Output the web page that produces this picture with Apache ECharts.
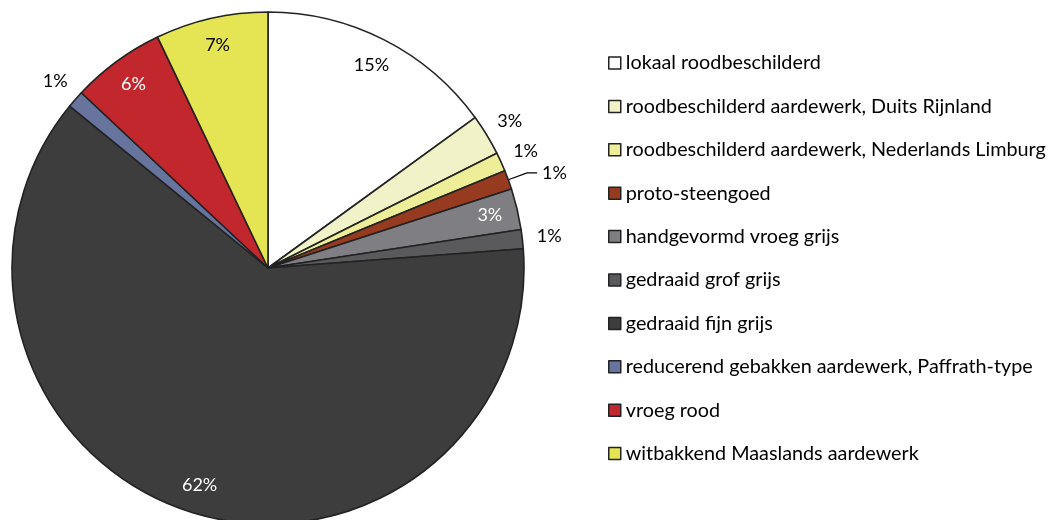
<!DOCTYPE html>
<html>
<head>
<meta charset="utf-8">
<script src="https://cdn.jsdelivr.net/npm/echarts@6/dist/echarts.min.js"></script>
<style>html,body{margin:0;padding:0;background:#fff}#c{width:1052px;height:520px}</style>
</head>
<body>
<div id="c"></div>
<script>
const categories = [
  'lokaal roodbeschilderd',
  'roodbeschilderd aardewerk, Duits Rijnland',
  'roodbeschilderd aardewerk, Nederlands Limburg',
  'proto-steengoed',
  'handgevormd vroeg grijs',
  'gedraaid grof grijs',
  'gedraaid fijn grijs',
  'reducerend gebakken aardewerk, Paffrath-type',
  'vroeg rood',
  'witbakkend Maaslands aardewerk'
];
const values = [15.0, 2.6, 1.2, 1.2, 2.6, 1.2, 62.1, 1.1, 5.9, 7.1];
const colors = ['#FFFFFF', '#F2F2C8', '#EEEE98', '#973B20', '#7F7F83', '#5A5A5D', '#3D3D3D', '#66749E', '#C1272D', '#E5E554'];
// label placement: 'in' = inside near rim, 'out' = just outside rim, 'line' = outside with leader line
const labelMode = ['in', 'out', 'out', 'line', 'in', 'out', 'in', 'out', 'in', 'in'];
const labelColor = ['#000', '#000', '#000', '#000', '#fff', '#000', '#fff', '#000', '#fff', '#000'];

const FONT = 'Lato';
const fmt = p => Math.round(p.value) + '%';
const border = '#222222';

const chart = echarts.init(document.getElementById('c'));
const mainData = categories.map((n, i) => ({
  name: n, value: values[i],
  itemStyle: { color: colors[i] },
  label: labelMode[i] === 'line' ? { show: true, position: 'outside', color: labelColor[i] } : { show: false },
  labelLine: labelMode[i] === 'line' ? { show: true, length: 20, length2: 10, lineStyle: { color: '#000', width: 1.2 } } : { show: false }
}));
const overlay = mode => categories.map((n, i) => ({
  name: n, value: values[i],
  itemStyle: { color: 'rgba(0,0,0,0)', borderWidth: 0 },
  label: { show: labelMode[i] === mode, position: 'inside', color: labelColor[i] }
}));
const common = {
  type: 'pie', center: [268, 268], startAngle: 90, clockwise: true,
  avoidLabelOverlap: false, animation: false,
  label: { formatter: fmt, fontFamily: FONT, fontSize: 18 },
  emphasis: { disabled: true }
};
chart.setOption({
  backgroundColor: '#fff',
  legend: {
    orient: 'vertical', left: 603, top: 48,
    itemWidth: 12, itemHeight: 12, itemGap: 23.4, icon: 'rect',
    textStyle: { fontFamily: FONT, fontSize: 19.8, color: '#000', lineHeight: 20 },
    data: categories.map((n, i) => ({ name: n, itemStyle: { color: colors[i], borderColor: border, borderWidth: 1.5 } })),
    selectedMode: false
  },
  series: [
    Object.assign({}, common, {
      name: 'main', radius: 256, data: mainData,
      itemStyle: { borderColor: border, borderWidth: 1.6 }
    }),
    Object.assign({}, common, {
      name: 'inLabels', radius: [200, 250], silent: true, data: overlay('in'),
      labelLine: { show: false }
    }),
    Object.assign({}, common, {
      name: 'outLabels', radius: [262, 298], silent: true, data: overlay('out'),
      labelLine: { show: false }
    })
  ]
});
</script>
</body>
</html>
